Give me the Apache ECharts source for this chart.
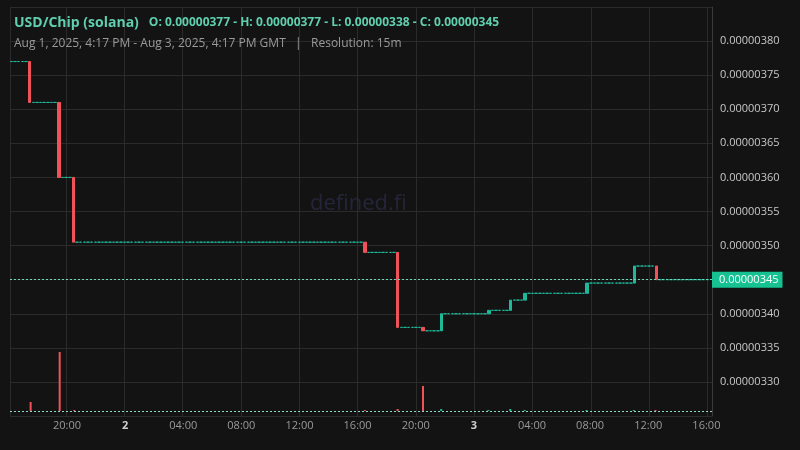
<!DOCTYPE html>
<html>
<head>
<meta charset="utf-8">
<script src="https://cdn.jsdelivr.net/npm/echarts@6/dist/echarts.min.js"></script>
<style>html,body{margin:0;background:#131313}#chart{width:800px;height:450px}</style>
</head>
<body>
<div id="chart"></div>
<script>
// prices in units of 1e-8
const startTime = Date.UTC(2025, 7, 1, 16, 15);
const step = 15 * 60 * 1000;
const candleCount = 192;
const firstPrice = 377;
const moveIdx = [5, 13, 17, 97, 106, 113, 118, 131, 137, 141, 158, 171, 177];
const moveOpen = [377, 371, 360, 350.5, 349, 338, 337.5, 340, 340.5, 342, 343, 344.5, 347];
const moveClose = [371, 360, 350.5, 349, 338, 337.5, 340, 340.5, 342, 343, 344.5, 347, 345];
const moveVolume = [9, 59, 1, 1, 2, 25, 2, 1, 2, 1, 1, 1, 1];
const yTicks = [330, 335, 340, 345, 350, 355, 360, 365, 370, 375, 380];
const lastPrice = 345;

const up = '#1fb99a', down = '#f0525a';
let candles = [], volumes = [];
let price = firstPrice;
for (let i = 0; i < candleCount; i++) {
  const t = startTime + i * step;
  const k = moveIdx.indexOf(i);
  if (k >= 0) {
    const o = moveOpen[k], c = moveClose[k];
    const col = c >= o ? up : down;
    candles.push({value: [t, o, c, Math.min(o, c), Math.max(o, c)], itemStyle: {color: col, color0: col, borderColor: col, borderColor0: col}});
    volumes.push({value: [t, moveVolume[k]], itemStyle: {color: col}});
    price = c;
  } else {
    candles.push({value: [t, price, price, price, price], itemStyle: {color: up, color0: up, borderColor: up, borderColor0: up}});
  }
}

const chart = echarts.init(document.getElementById('chart'));
const fmt = v => (v / 1e8).toFixed(8);
chart.setOption({
  backgroundColor: '#131313',
  animation: false,
  useUTC: true,
  title: {
    left: 9, top: 9,
    text: '{a|USD/Chip (solana)}  {b|O: 0.00000377 - H: 0.00000377 - L: 0.00000338 - C: 0.00000345}',
    subtext: 'Aug 1, 2025, 4:17 PM - Aug 3, 2025, 4:17 PM GMT   |   Resolution: 15m',
    itemGap: 6,
    textStyle: {rich: {
      a: {color: '#5fcfae', fontSize: 14, fontFamily: 'Open Sans'},
      b: {color: '#5fcfae', fontSize: 12, fontFamily: 'Open Sans'}
    }},
    subtextStyle: {color: '#9a9a9a', fontSize: 12, fontFamily: 'Open Sans'}
  },
  graphic: [{type: 'text', left: 310, top: 193, style: {text: 'defined.fi', fill: '#25253a', fontSize: 22, fontFamily: 'Open Sans'}}],
  grid: [
    {left: 10, right: 88, top: 7, bottom: 34},
    {left: 10, right: 88, top: 351, bottom: 39}
  ],
  xAxis: [
    {type: 'time', gridIndex: 0, min: Date.UTC(2025, 7, 1, 16, 9), max: Date.UTC(2025, 7, 3, 16, 19),
     minInterval: 6 * 3600000, maxInterval: 6 * 3600000,
     axisLine: {show: false}, axisTick: {show: false}, axisLabel: {show: false},
     splitLine: {show: true, lineStyle: {color: '#2b2b2b'}}},
    {type: 'time', gridIndex: 1, min: Date.UTC(2025, 7, 1, 16, 9), max: Date.UTC(2025, 7, 3, 16, 19),
     minInterval: 6 * 3600000, maxInterval: 6 * 3600000,
     axisLine: {show: false}, axisTick: {show: false}, splitLine: {show: false},
     axisLabel: {color: '#9a9a9a', fontSize: 11, fontFamily: 'Open Sans', margin: 9,
       formatter: v => {
         const d = new Date(v);
         if (d.getUTCHours() === 0) return '{b|' + d.getUTCDate() + '}';
         return String(d.getUTCHours()).padStart(2, '0') + ':00';
       },
       rich: {b: {color: '#cfcfcf', fontWeight: 'bold', fontSize: 11}}}}
  ],
  yAxis: [
    {type: 'value', gridIndex: 0, position: 'right', min: 325, max: 385, interval: 5,
     axisLine: {show: true, lineStyle: {color: '#3a3a3a'}}, axisTick: {show: false},
     axisLabel: {color: '#c8c8c8', fontSize: 11, fontFamily: 'Open Sans', margin: 8,
       formatter: v => yTicks.indexOf(v) >= 0 ? fmt(v) : ''},
     splitLine: {lineStyle: {color: '#2b2b2b'}}},
    {type: 'value', gridIndex: 1, min: 0, max: 60, show: false}
  ],
  series: [
    {type: 'candlestick', xAxisIndex: 0, yAxisIndex: 0, data: candles, barWidth: 3,
     markLine: {symbol: 'none', silent: true,
       lineStyle: {color: '#6fd8bc', type: [2, 2], width: 1},
       label: {position: 'end', formatter: () => fmt(lastPrice), color: '#fff', backgroundColor: '#16c291',
         padding: [3, 4, 2, 7], fontSize: 11, fontFamily: 'Open Sans', distance: 0},
       data: [{yAxis: lastPrice}]}},
    {type: 'bar', xAxisIndex: 1, yAxisIndex: 1, data: volumes, barWidth: 2,
     markLine: {symbol: 'none', silent: true, label: {show: false},
       lineStyle: {color: '#8fd8c4', type: [2, 2], width: 1}, data: [{yAxis: 0}]}}
  ]
});
</script>
</body>
</html>
